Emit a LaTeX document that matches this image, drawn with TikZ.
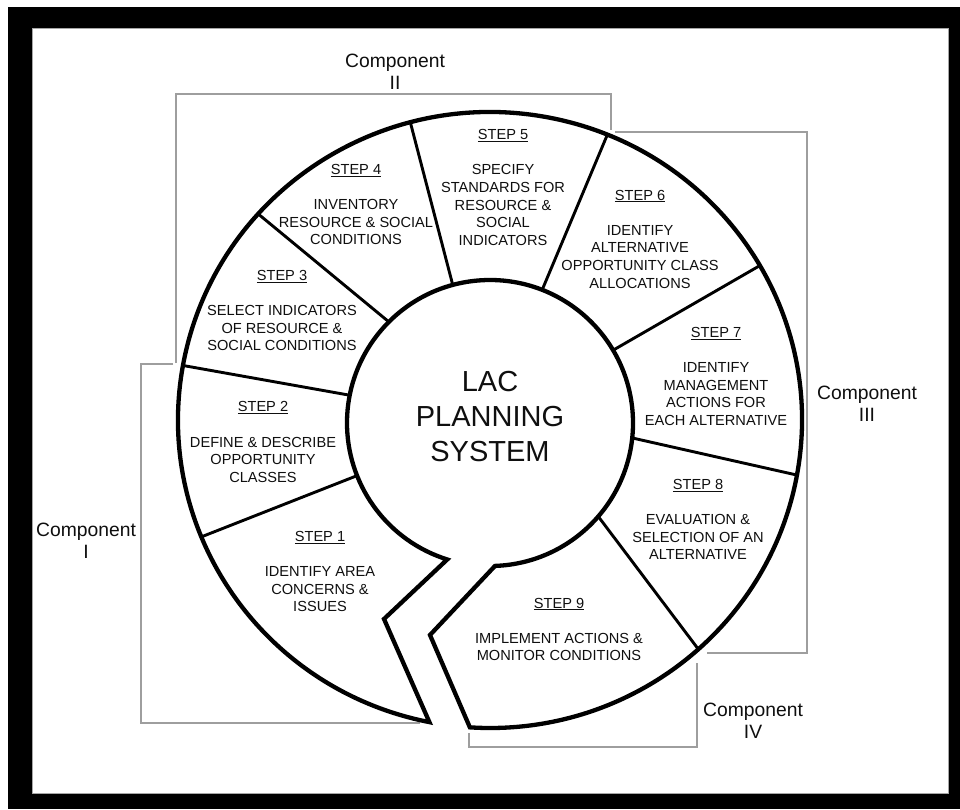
\documentclass[tikz,border=0pt]{standalone}
\usepackage{fontspec}
\setmainfont{Liberation Sans}
\usetikzlibrary{calc}
\definecolor{bracketgray}{gray}{0.62}
\definecolor{inkgray}{gray}{0.06}
\begin{document}
\begin{tikzpicture}[x=1pt,y=-1pt,
  outline/.style={draw=black,line width=4.3pt,line join=miter,miter limit=10},
  divider/.style={draw=black,line width=2.9pt},
  bracket/.style={draw=bracketgray,line width=1.4pt},
  steptext/.style={align=center,inner sep=0pt,text=inkgray,
    font=\fontsize{14.6}{17.6}\selectfont},
  complabel/.style={align=center,inner sep=0pt,text=inkgray,
    font=\fontsize{19.3}{22}\selectfont},
  hubtext/.style={align=center,inner sep=0pt,text=inkgray,
    font=\fontsize{29}{35}\selectfont},
]
\useasboundingbox (0,0) rectangle (960,809);

% frame
\fill[white] (0,0) rectangle (960,809);
\fill[black] (8,7) rectangle (960,809);
\filldraw[fill=white,draw=black!35,line width=0.8pt] (32,28) rectangle (948,793);

% centres of the hub and of the rim
\coordinate (ic) at (490,423);
\coordinate (oc) at (490,420);

% component brackets
\draw[bracket] (173,364) -- (141,364) -- (141,723) -- (420,723);
\draw[bracket] (176,363) -- (176,94) -- (611,94) -- (611,130);
\draw[bracket] (615,132) -- (807,132) -- (807,653) -- (707,653);
\draw[bracket] (469,733) -- (469,747) -- (697,747) -- (697,663);

% outline of the spiral wheel
\coordinate (s9) at ($(oc)+(93.7:312 and 308)$);
\coordinate (tip) at ($(oc)+(101.2:312 and 308)$);
\coordinate (hubR) at ($(ic)+(88:143)$);
\fill[white] (s9) -- (430,635) -- (hubR)
  arc[start angle=88,end angle=-252.6,radius=143]
  -- (384,619) -- (tip)
  arc[start angle=101.2,end angle=453.7,x radius=312,y radius=308] -- cycle;

% dividers between the steps
\foreach \n/\a/\b in {d12/158.4/157.7, d23/191.2/190.2, d34/225/222,
                      d45/254.9/255.2, d56/291.4/292.1, d67/329.4/329.9,
                      d78/6/10.3, d89/40.8/48.1} {
  \coordinate (\n i) at ($(ic)+(\a:143)$);
  \coordinate (\n o) at ($(oc)+(\b:312 and 308)$);
  \draw[divider] (\n i) -- (\n o);
}

\draw[outline] (s9) -- (430,635) -- (hubR)
  arc[start angle=88,end angle=-252.6,radius=143]
  -- (384,619) -- (tip)
  arc[start angle=101.2,end angle=453.7,x radius=312,y radius=308] -- cycle;

% hub title
\node[hubtext] (hub) at (490,417) {LAC\\PLANNING\\SYSTEM};

% steps
\node[steptext] (st1) at (320,571.5) {\underline{STEP 1}\\[17.6pt]IDENTIFY AREA\\CONCERNS \&\\ISSUES};
\node[steptext] (st2) at (263,442) {\underline{STEP 2}\\[17.6pt]DEFINE \& DESCRIBE\\OPPORTUNITY\\CLASSES};
\node[steptext] (st3) at (282,310.5) {\underline{STEP 3}\\[17.6pt]SELECT INDICATORS\\OF RESOURCE \&\\SOCIAL CONDITIONS};
\node[steptext] (st4) at (356,204.5) {\underline{STEP 4}\\[17.6pt]INVENTORY\\RESOURCE \& SOCIAL\\CONDITIONS};
\node[steptext] (st5) at (503,187.5) {\underline{STEP 5}\\[17.6pt]SPECIFY\\STANDARDS FOR\\RESOURCE \&\\SOCIAL\\INDICATORS};
\node[steptext] (st6) at (640,239) {\underline{STEP 6}\\[17.6pt]IDENTIFY\\ALTERNATIVE\\OPPORTUNITY CLASS\\ALLOCATIONS};
\node[steptext] (st7) at (716,376.5) {\underline{STEP 7}\\[17.6pt]IDENTIFY\\MANAGEMENT\\ACTIONS FOR\\EACH ALTERNATIVE};
\node[steptext] (st8) at (698,519.5) {\underline{STEP 8}\\[17.6pt]EVALUATION \&\\SELECTION OF AN\\ALTERNATIVE};
\node[steptext] (st9) at (559,629.5) {\underline{STEP 9}\\[17.6pt]IMPLEMENT ACTIONS \&\\MONITOR CONDITIONS};

% component labels
\node[complabel] (c1) at (86,541) {Component\\I};
\node[complabel] (c2) at (395,72) {Component\\II};
\node[complabel] (c3) at (867,404) {Component\\III};
\node[complabel] (c4) at (753,721) {Component\\IV};
\end{tikzpicture}
\end{document}
